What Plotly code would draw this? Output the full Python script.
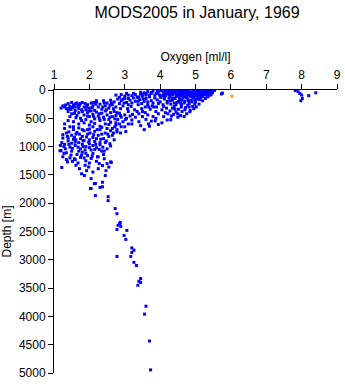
import plotly.graph_objects as go

title_text = "MODS2005 in January, 1969"
x_title = "Oxygen [ml/l]"
y_title = "Depth [m]"
x_ticks = [1, 2, 3, 4, 5, 6, 7, 8, 9]
y_ticks = [0, 500, 1000, 1500, 2000, 2500, 3000, 3500, 4000, 4500, 5000]

# (oxygen ml/l, depth m)
surface_points = [
    (4.05, 15), (4.12, 40), (4.18, 70), (4.25, 20), (4.30, 55), (4.35, 90), (4.40, 10), (4.42, 35),
    (4.48, 65), (4.50, 95), (4.55, 20), (4.60, 45), (4.63, 80), (4.68, 10), (4.72, 30), (4.75, 60),
    (4.80, 90), (4.82, 15), (4.88, 45), (4.90, 75), (4.95, 5), (5.00, 30), (5.02, 60), (5.08, 90),
    (5.10, 15), (5.15, 45), (5.20, 70), (5.22, 10), (5.28, 35), (5.30, 60), (5.35, 15), (5.40, 40),
    (5.45, 20), (5.50, 10), (4.15, 100), (4.28, 110), (4.45, 120), (4.58, 105), (4.70, 115),
    (4.85, 110), (4.97, 100), (5.12, 105), (5.25, 90), (5.38, 70), (3.95, 30), (3.90, 60),
    (3.98, 85), (4.08, 95), (4.60, 5), (4.78, 0), (5.05, 0), (5.30, 0), (4.20, 0), (4.45, 0),
    (5.54, 5), (5.73, 70), (5.76, 55),
    (3.55, 50), (3.65, 30), (3.80, 20), (3.85, 90), (3.70, 95), (3.50, 80), (3.40, 120),
    (3.25, 60), (3.10, 90), (2.90, 80), (3.05, 60), (4.30, 10), (4.50, 50), (4.65, 25),
    (4.85, 55), (5.05, 45), (5.18, 25), (5.32, 45), (4.95, 55), (4.75, 85), (4.55, 75),
    (4.38, 60), (4.22, 45), (4.10, 70), (4.00, 110), (5.45, 70), (5.48, 45),
    (4.02, 5), (4.14, 20), (4.26, 80), (4.34, 30), (4.46, 85), (4.52, 5), (4.58, 60),
    (4.66, 95), (4.70, 45), (4.78, 30), (4.84, 75), (4.92, 25), (4.98, 80), (5.04, 95),
    (5.12, 60), (5.16, 80), (5.24, 50), (5.26, 80), (5.34, 30), (5.36, 55), (5.42, 5),
    (5.42, 90), (3.75, 45), (3.92, 10), (3.60, 65), (3.45, 40),
]
shelf_points = [
    (3.35, 130), (3.42, 170), (3.50, 110), (3.55, 200), (3.60, 150), (3.65, 260), (3.70, 120),
    (3.75, 190), (3.80, 230), (3.85, 140), (3.90, 300), (3.92, 175), (4.00, 210), (4.02, 130),
    (4.08, 260), (4.12, 160), (4.18, 320), (4.20, 200), (4.25, 140), (4.30, 250), (4.35, 180),
    (4.40, 290), (4.42, 150), (4.48, 220), (4.52, 340), (4.55, 170), (4.60, 260), (4.65, 140),
    (4.70, 200), (4.72, 310), (4.78, 160), (4.82, 240), (4.88, 180), (4.92, 290), (4.95, 140),
    (5.00, 210), (5.05, 160), (5.10, 250), (5.15, 130), (5.20, 190), (5.28, 150), (5.35, 120),
    (3.48, 240), (3.58, 300), (3.72, 340), (3.88, 380), (4.05, 350), (4.15, 400), (4.28, 370),
    (4.38, 430), (4.45, 390), (4.58, 450), (4.62, 380), (4.75, 420), (4.85, 360), (4.95, 330),
    (5.02, 300), (4.68, 470), (4.50, 480), (4.32, 460), (2.75, 90), (2.85, 130), (3.00, 110),
    (3.10, 150), (3.20, 100), (3.30, 80), (3.45, 70), (3.60, 90), (3.75, 60), (2.95, 160),
    (4.12, 130), (4.35, 150), (4.55, 140), (4.75, 130), (4.90, 125), (5.05, 120), (5.20, 115),
    (5.35, 100), (4.20, 230), (4.45, 260), (4.68, 230), (4.90, 210), (4.35, 320), (4.60, 300),
    (4.82, 300), (4.10, 290), (3.95, 240), (3.82, 300), (3.65, 210), (4.22, 420), (4.42, 340),
    (4.70, 350), (4.50, 420),
    (4.28, 190), (4.52, 200), (4.62, 180), (4.80, 190), (4.98, 170), (5.12, 170), (4.40, 230),
    (4.58, 230), (4.78, 270), (4.98, 250),
]
branch_points = [
    (1.20, 320), (1.25, 280), (1.40, 240), (1.30, 300), (1.35, 330), (1.50, 220), (1.55, 260),
    (1.45, 290), (1.60, 300), (1.62, 240), (1.70, 330), (1.72, 270), (1.80, 220), (1.85, 300),
    (1.90, 350), (1.95, 260), (2.00, 320), (2.05, 230), (2.10, 280), (2.15, 360), (2.20, 210),
    (2.25, 300), (2.30, 250), (2.35, 340), (2.40, 190), (2.45, 280), (2.50, 230), (2.55, 320),
    (2.60, 180), (2.65, 260), (2.70, 210), (2.75, 300), (2.80, 160), (2.85, 240), (2.90, 190),
    (2.95, 280), (3.00, 150), (3.05, 220), (3.10, 260), (3.15, 180), (3.20, 230), (3.25, 140),
    (3.30, 200), (1.65, 230), (2.20, 190),
    (1.33, 265), (1.48, 345), (1.58, 410), (1.68, 285), (1.78, 350), (1.88, 240), (1.98, 370),
    (2.08, 310), (2.18, 250), (2.28, 420), (2.38, 300), (2.48, 350), (2.58, 270), (2.68, 330),
    (2.78, 400), (2.88, 330), (2.98, 230), (3.08, 330), (3.18, 290), (3.28, 350), (3.38, 260),
    (3.48, 330), (3.58, 400), (3.68, 300), (3.78, 280), (3.38, 200), (3.52, 160), (2.62, 230),
    (2.42, 230), (2.12, 220), (1.92, 300), (1.74, 240), (1.52, 310), (1.42, 330),
]
mid_points = [
    (1.40, 380), (1.50, 420), (1.45, 470), (1.60, 360), (1.65, 450), (1.70, 400), (1.75, 500),
    (1.80, 380), (1.85, 440), (1.90, 520), (1.95, 400), (2.00, 470), (2.05, 370), (2.10, 430),
    (2.15, 510), (2.20, 390), (2.25, 460), (2.30, 540), (2.35, 410), (2.40, 480), (2.45, 370),
    (2.50, 440), (2.55, 520), (2.60, 400), (2.65, 470), (2.70, 380), (2.75, 450), (2.80, 520),
    (2.85, 410), (2.90, 480), (2.95, 560), (3.00, 440), (3.05, 500), (3.10, 380), (3.15, 460),
    (3.20, 530), (3.30, 480), (3.40, 420), (3.50, 470), (3.60, 520), (1.55, 560), (1.70, 600),
    (1.85, 580), (2.00, 620), (2.15, 590), (2.30, 640), (2.45, 600), (2.60, 570), (2.75, 620),
    (1.40, 540), (1.30, 600), (2.05, 560), (2.55, 610), (2.85, 600), (3.00, 650), (3.10, 600),
    (3.45, 630), (3.55, 700), (3.75, 550), (3.95, 610), (4.05, 580), (4.30, 525), (4.57, 455),
    (4.84, 385), (3.03, 735), (2.78, 740), (2.75, 580), (3.40, 560), (3.86, 545), (3.67, 600),
    (1.62, 490), (1.78, 540), (1.95, 460), (2.12, 470), (2.28, 500), (2.42, 520), (2.58, 480),
    (2.72, 510), (2.88, 450), (3.02, 520), (3.22, 430), (3.35, 380), (3.50, 380), (3.65, 440),
    (3.80, 470), (3.95, 420), (4.10, 470), (4.20, 530), (3.88, 500), (3.70, 640), (3.20, 600),
    (2.90, 650),
]
lower_points = [
    (1.30, 680), (1.45, 650), (1.55, 700), (1.70, 670), (1.85, 720), (2.00, 690), (2.15, 730),
    (2.30, 700), (2.45, 760), (2.60, 720), (1.35, 760), (1.50, 800), (1.65, 750), (1.80, 820),
    (1.95, 780), (2.10, 840), (2.25, 800), (2.40, 860), (2.55, 820), (2.70, 880), (1.25, 850),
    (1.40, 900), (1.55, 870), (1.70, 930), (1.85, 890), (2.00, 950), (2.15, 910), (2.30, 970),
    (2.45, 930), (2.60, 990), (1.30, 960), (1.45, 1010), (1.60, 980), (1.75, 1040), (1.90, 1000),
    (2.05, 1060), (2.20, 1020), (2.35, 1080), (2.50, 1040), (1.20, 1070), (1.35, 1110),
    (1.50, 1080), (1.65, 1140), (1.80, 1100), (1.95, 1160), (2.10, 1120), (2.25, 1180),
    (2.40, 1140), (1.25, 1180), (1.45, 1200), (1.60, 1230), (1.75, 1190), (1.90, 1250),
    (2.05, 1210), (2.20, 1260), (1.38, 1270), (1.58, 1215), (2.42, 1215), (2.60, 1270),
    (2.23, 1180), (1.17, 1075), (1.22, 1370), (1.28, 1000), (1.40, 850), (1.60, 920),
    (1.80, 960), (2.00, 880), (2.20, 860), (1.50, 940), (1.70, 1080), (1.90, 1120), (2.10, 980),
    (1.62, 780), (1.92, 830), (2.12, 790), (2.35, 780), (2.50, 680), (2.65, 800), (2.78, 700),
    (1.75, 860), (1.48, 1150), (1.32, 1040), (2.00, 1020), (2.30, 930), (1.80, 700), (1.55, 650),
    (2.10, 650),
    (1.22, 930), (1.28, 1120), (1.38, 820), (1.42, 960), (1.52, 1030), (1.58, 840), (1.68, 1010),
    (1.72, 780), (1.78, 1150), (1.82, 900), (1.88, 1060), (1.98, 920), (2.02, 760), (2.08, 1170),
    (2.18, 960), (2.22, 700), (2.28, 1050), (2.32, 870), (2.38, 1010), (2.48, 900), (2.52, 780),
    (2.58, 950), (2.68, 760), (1.35, 1230), (1.52, 1260), (1.68, 1290), (1.85, 1200),
    (2.00, 1290), (2.15, 1050), (1.62, 880), (1.82, 1000), (2.42, 1080), (1.95, 700),
    (1.42, 740), (2.72, 650), (2.88, 760), (2.65, 680), (2.35, 660), (1.25, 790), (1.18, 980),
]
tail_points = [
    (1.72, 1390), (1.78, 1480), (1.86, 1510), (1.92, 1425), (2.05, 1565), (2.05, 1740),
    (2.14, 1655), (2.17, 1865), (2.37, 1710), (2.28, 1300), (2.37, 1335), (2.47, 1425),
    (2.45, 1510), (2.17, 1650), (2.37, 1630), (2.30, 1720), (2.03, 1740), (2.53, 1885),
    (2.53, 1955), (2.73, 2095), (2.78, 2185), (2.86, 2360), (2.87, 2340), (2.81, 2390),
    (2.89, 2410), (2.78, 2465), (3.06, 2480), (2.98, 2570), (3.03, 2640), (3.20, 2790),
    (3.26, 2830), (3.20, 2870), (3.17, 2940), (2.78, 2940), (3.26, 3045), (3.33, 3100),
    (3.45, 3330), (3.40, 3380), (3.45, 3400), (3.37, 3450), (3.60, 3820), (3.56, 3960),
    (3.70, 4435), (3.73, 4945),
    (1.98, 1360), (2.10, 1450), (2.25, 1390), (2.55, 1360), (2.50, 1300), (1.62, 1330),
    (2.62, 1280), (1.88, 1330),
]
high_points = [
    (7.82, 10), (7.90, 30), (7.95, 60), (8.00, 90), (8.02, 150), (7.98, 190), (8.20, 100),
    (8.40, 50),
]
flag_points = [(6.03, 110)]

blue = (surface_points + shelf_points + branch_points + mid_points + lower_points
        + tail_points + high_points)

fig = go.Figure()
fig.add_trace(go.Scatter(
    x=[p[0] for p in blue], y=[p[1] for p in blue], mode="markers",
    marker=dict(symbol="square", size=3, color="#0000ff", line=dict(width=0)),
    showlegend=False, hoverinfo="skip"))
fig.add_trace(go.Scatter(
    x=[p[0] for p in flag_points], y=[p[1] for p in flag_points], mode="markers",
    marker=dict(symbol="square", size=3, color="#ffa500", line=dict(width=0)),
    showlegend=False, hoverinfo="skip"))

font = "Liberation Sans, Arial, Helvetica, sans-serif"
fig.update_layout(
    width=345, height=384,
    margin=dict(l=54, r=4, t=90, b=8),
    paper_bgcolor="white", plot_bgcolor="white",
    font=dict(family=font, size=12, color="black"),
    title=dict(text=title_text, x=197 / 345, xanchor="center", y=1 - 12 / 384,
               yanchor="middle", font=dict(size=16, family=font, color="black")),
)
fig.update_xaxes(
    side="top", range=[1, 9], tickvals=x_ticks, ticks="outside", ticklen=5,
    tickcolor="black", showline=True, linecolor="black", linewidth=1,
    showgrid=False, zeroline=False, tickfont=dict(size=12),
    title=dict(text=x_title, font=dict(size=12), standoff=4),
)
fig.update_yaxes(
    range=[5000, 0], tickvals=y_ticks, ticks="outside", ticklen=5,
    tickcolor="black", showline=True, linecolor="black", linewidth=1,
    showgrid=False, zeroline=False, tickfont=dict(size=12),
    title=dict(text=y_title, font=dict(size=12), standoff=4),
)
fig.write_html("out.html")
